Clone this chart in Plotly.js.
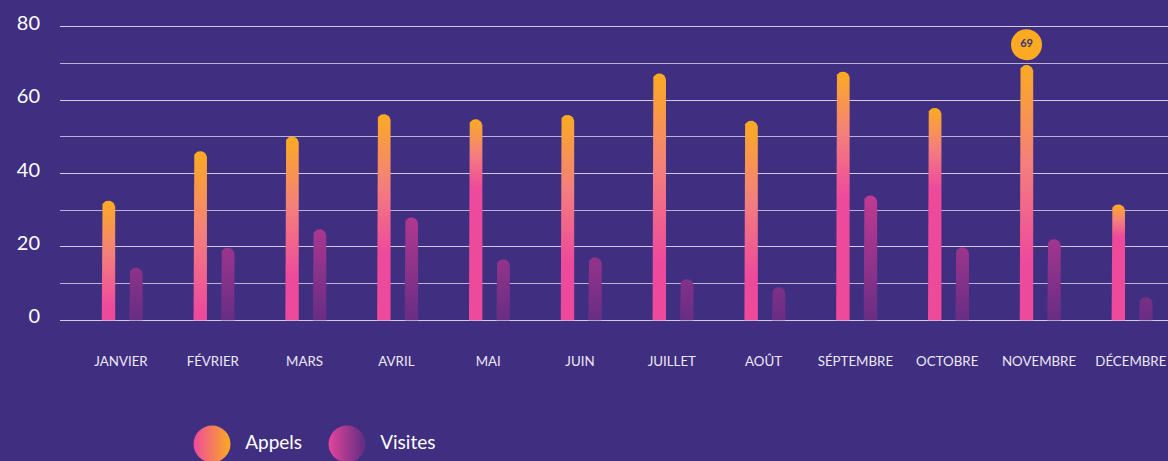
<!DOCTYPE html>
<html><head><meta charset="utf-8">
<script src="https://cdn.plot.ly/plotly-3.0.1.min.js"></script>
<style>html,body{margin:0;padding:0;background:#402f80;overflow:hidden}#chart{width:1168px;height:461px}</style>
</head><body><div id="chart"></div>
<script>
// ---- data ----
const months = ['JANVIER','FÉVRIER','MARS','AVRIL','MAI','JUIN','JUILLET','AOÛT','SÉPTEMBRE','OCTOBRE','NOVEMBRE','DÉCEMBRE'];
const appels = [32, 45.5, 49.5, 55.6, 54.2, 55.4, 66.7, 53.8, 67.2, 57.3, 69, 31];
const visites = [13.7, 19.2, 24.2, 27.4, 16, 16.5, 10.6, 8.4, 33.4, 19.3, 21.5, 5.7];
const yTickVals = [0, 20, 40, 60, 80];
const seriesNames = ['Appels', 'Visites'];

// ---- style (not data) ----
const appelsPinkAt = [3.6, 2, 11.8, 18, 36, 16, 16, 11.8, 33.6, 36, 16, 22.7];
const W = 1168, H = 461;
const margin = {l: 60, r: 0, t: 25, b: 0};
const plotBottomPx = 139;           // distance of main plot bottom from page bottom
const areaH = H - margin.t - margin.b;
const mainDomain = [plotBottomPx / areaH, 1];
const legDomain = [0, 120 / areaH];
const xRange = [-0.664, 11.405];
const yRange = [-0.5, 80.5];
const pxPerX = (W - margin.l - margin.r) / (xRange[1] - xRange[0]);
const pxPerY = (areaH - plotBottomPx) / (yRange[1] - yRange[0]);
const barHalfPx = 6.7;
const capOverPx = 2.2;
const offAppels = -12.5 / pxPerX, offVisites = 15 / pxPerX;
const BG = '#402f80';

function barShape(xc, top) {
  const rx = barHalfPx / pxPerX, ry = barHalfPx / pxPerY;
  const t = top + capOverPx / pxPerY;
  const xs = [xc - rx, xc - rx], ys = [0, t - ry];
  const N = 20;
  for (let k = 0; k <= N; k++) {
    const a = Math.PI - Math.PI * k / N;
    xs.push(xc + rx * Math.cos(a));
    ys.push(t - ry + ry * Math.sin(a));
  }
  xs.push(xc + rx, xc - rx); ys.push(0, 0);
  return {xs, ys, t};
}

const traces = [];
months.forEach((m, i) => {
  const a = barShape(i + offAppels, appels[i]);
  traces.push({type: 'scatter', mode: 'lines', x: a.xs, y: a.ys, fill: 'toself',
    line: {width: 0, color: 'rgba(0,0,0,0)'},
    fillgradient: {type: 'vertical', start: appelsPinkAt[i], stop: a.t,
      colorscale: [[0, '#ee4a9c'], [0.5, '#f47f7c'], [1, '#fbab22']]},
    hoverinfo: 'skip', showlegend: false});
  const v = barShape(i + offVisites, visites[i]);
  traces.push({type: 'scatter', mode: 'lines', x: v.xs, y: v.ys, fill: 'toself',
    line: {width: 0, color: 'rgba(0,0,0,0)'},
    fillgradient: {type: 'vertical', start: 0, stop: 36,
      colorscale: [[0, '#682d84'], [1, '#c63b93']]},
    hoverinfo: 'skip', showlegend: false});
});

// max-value bubble
const maxIdx = appels.indexOf(Math.max(...appels));
traces.push({type: 'scatter', mode: 'markers+text', x: [maxIdx + offAppels],
  y: [appels[maxIdx] + 22.5 / pxPerY], text: [String(appels[maxIdx])],
  textposition: 'middle center',
  textfont: {family: 'Lato', size: 11, color: '#40307f', weight: 700},
  marker: {size: 31, color: '#fbaa22'}, cliponaxis: false, hoverinfo: 'skip', showlegend: false});

// custom legend (pixel-space axes in the bottom band)
traces.push({type: 'scatter', mode: 'markers+text', xaxis: 'x2', yaxis: 'y2',
  x: [212, 347], y: [H - 444, H - 444],
  text: ['  ' + seriesNames[0], '  ' + seriesNames[1]],
  textposition: 'middle right',
  textfont: {family: 'Lato', size: 19, color: '#ffffff'},
  marker: {size: 37, color: ['#ee4a9c', '#e4459b'],
    gradient: {type: 'horizontal', color: ['#fbab22', '#5e2c82']}},
  cliponaxis: false, hoverinfo: 'skip', showlegend: false});

const gridCol = 'rgba(215,210,235,0.8)';
const layout = {
  width: W, height: H, margin: margin,
  paper_bgcolor: BG, plot_bgcolor: BG,
  showlegend: false,
  font: {family: 'Lato', color: '#ffffff'},
  xaxis: {range: xRange, anchor: 'y', tickvals: months.map((m, i) => i), ticktext: months,
    showgrid: false, zeroline: false, showline: false, ticks: '',
    ticklabelstandoff: 30, tickfont: {family: 'Lato', size: 13.3, color: '#ece8f6'}, fixedrange: true},
  yaxis: {domain: mainDomain, range: yRange, tickvals: yTickVals, showgrid: true, zeroline: false, showline: false, ticks: '',
    gridcolor: gridCol, gridwidth: 1.2,
    minor: {dtick: 10, tick0: 0, showgrid: true, gridcolor: gridCol, gridwidth: 1.2, ticks: ''},
    tickfont: {family: 'Lato', size: 20, color: '#ffffff'}, ticklabelstandoff: 19, ticklabelshift: -4, fixedrange: true},
  xaxis2: {anchor: 'y2', range: [margin.l, W - margin.r], visible: false, fixedrange: true},
  yaxis2: {anchor: 'x2', domain: legDomain, range: [0, 120], visible: false, fixedrange: true},
};

Plotly.newPlot('chart', traces, layout, {displayModeBar: false, staticPlot: true});
</script></body></html>
